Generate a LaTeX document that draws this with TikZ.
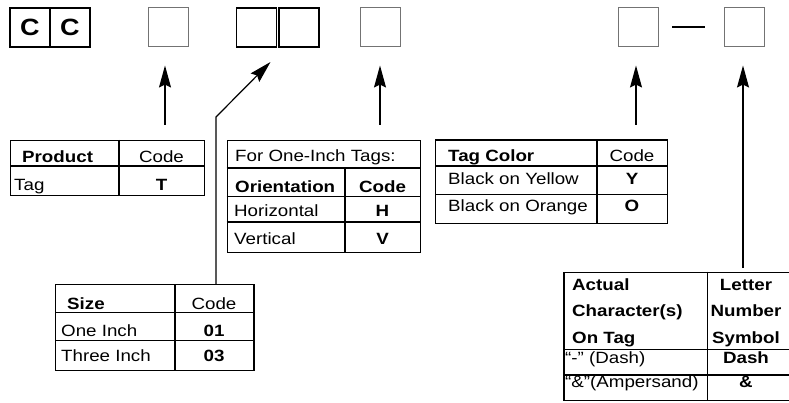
\documentclass[tikz,border=0pt]{standalone}
\usepackage{fontspec}
\setmainfont{Liberation Sans}[FakeStretch=1.15]
\usetikzlibrary{arrows.meta}
\newcommand*{\tsz}{\fontsize{16.3}{19}\selectfont}
\newcommand*{\bsz}{\fontsize{23.5}{26}\selectfont\bfseries}

\begin{document}
\begin{tikzpicture}[x=1pt, y=-1pt, font=\tsz,
    cell/.style  = {draw, line width=1.4pt, minimum width=40pt, minimum height=39pt, inner sep=0pt},
    blank/.style = {draw=black!55, line width=1pt, minimum width=40pt, minimum height=39pt, inner sep=0pt},
    frame/.style = {draw, line width=1.3pt, anchor=north west, inner sep=0pt},
    rule/.style  = {line width=1.3pt},
    txt/.style   = {anchor=base west, inner sep=0pt},
    val/.style   = {anchor=base, inner sep=0pt},
    arr/.style   = {-{Stealth[length=22pt,width=12pt,inset=3pt]}, line width=1.2pt}]
    \useasboundingbox (0,0) rectangle (789,403);

    % code boxes
    \node [cell, font=\bsz] (c1) at ( 30,27.5) {C};
    \node [cell, font=\bsz] (c2) at ( 70,27.5) {C};
    \node [blank]           (b1) at (168,27.5) {};
    \node [cell, line width=1.1pt] (b2) at (256.5,27.5) {};
    \node [cell, line width=1.1pt] (b3) at (299,27.5) {};
    \node [blank]           (b4) at (380.5,27.5) {};
    \node [blank]           (b5) at (638,27.5) {};
    \node [inner sep=0pt]   (dash) at (688.5,27) {\rule{33pt}{1.5pt}};
    \node [blank]           (b6) at (744,27.5) {};

    % product
    \node [frame, minimum width=194pt, minimum height=55pt] (prodt) at (10,140) {};
    \draw [rule] (10,166) -- (204,166) (119,140) -- (119,195);
    \node [txt, font=\tsz\bfseries] (prod)  at (22,163)    {Product};
    \node [val]                     (prodc) at (161.5,163) {Code};
    \node [txt]                     (tag)   at (14,191)    {Tag};
    \node [val, font=\tsz\bfseries] (tagc)  at (161.5,191) {T};

    % orientation
    \node [frame, minimum width=193.5pt, minimum height=111.7pt] (orit) at (226.5,140) {};
    \draw [rule] (226.5,168) -- (420,168) (226.5,196.7) -- (420,196.7) (226.5,222) -- (420,222);
    \draw [rule] (345,168) -- (345,251.7);
    \node [txt]                     (onein) at (235,162)   {For One-Inch Tags:};
    \node [txt, font=\tsz\bfseries] (ori)   at (235,193)   {Orientation};
    \node [val, font=\tsz\bfseries] (oric)  at (382.5,193) {Code};
    \node [txt]                     (hor)   at (234,217)   {Horizontal};
    \node [val, font=\tsz\bfseries] (horc)  at (382.5,217) {H};
    \node [txt]                     (ver)   at (234,244.5) {Vertical};
    \node [val, font=\tsz\bfseries] (verc)  at (382.5,244.5) {V};

    % tag color
    \node [frame, minimum width=232pt, minimum height=83.4pt] (colt) at (435,139.3) {};
    \draw [rule] (435,166) -- (667,166) (435,194.3) -- (667,194.3) (597,139.3) -- (597,222.7);
    \node [txt, font=\tsz\bfseries] (col)   at (448,162)   {Tag Color};
    \node [val]                     (colc)  at (632,162)   {Code};
    \node [txt]                     (yel)   at (448,184.5) {Black on Yellow};
    \node [val, font=\tsz\bfseries] (yelc)  at (632,184.5) {Y};
    \node [txt]                     (ora)   at (448,211.5) {Black on Orange};
    \node [val, font=\tsz\bfseries] (orac)  at (632,211.5) {O};

    % size
    \node [frame, minimum width=198.3pt, minimum height=86pt] (szt) at (55,284) {};
    \draw [rule] (55,312.7) -- (253.3,312.7) (55,340.7) -- (253.3,340.7) (175,284) -- (175,370);
    \node [txt, font=\tsz\bfseries] (sz)    at (67,309.3)  {Size};
    \node [val]                     (szc)   at (214,309.3) {Code};
    \node [txt]                     (one)   at (61,336)    {One Inch};
    \node [val, font=\tsz\bfseries] (onec)  at (214,336)   {01};
    \node [txt]                     (three) at (61,361.7)  {Three Inch};
    \node [val, font=\tsz\bfseries] (threec) at (214,361.7) {03};

    % characters
    \node [frame, minimum width=228pt, minimum height=128.3pt] (actt) at (563.3,271.7) {};
    \draw [rule] (563.3,349.3) -- (791,349.3) (563.3,375) -- (791,375) (707.3,271.7) -- (707.3,400);
    \node [txt, font=\tsz\bfseries] (act1)  at (572,290)   {Actual};
    \node [txt, font=\tsz\bfseries] (act2)  at (572,316.7) {Character(s)};
    \node [txt, font=\tsz\bfseries] (act3)  at (572,343)   {On Tag};
    \node [val, font=\tsz\bfseries] (let1)  at (746,290)   {Letter};
    \node [val, font=\tsz\bfseries] (let2)  at (746,316.7) {Number};
    \node [val, font=\tsz\bfseries] (let3)  at (746,343)   {Symbol};
    \node [txt]                     (dsh)   at (565,363)   {“-” (Dash)};
    \node [val, font=\tsz\bfseries] (dshc)  at (746,363)   {Dash};
    \node [txt]                     (amp)   at (565,387.5) {“\&”(Ampersand)};
    \node [val, font=\tsz\bfseries] (ampc)  at (746,387.5) {\&};

    % arrows
    \coordinate (a1) at (165,125);
    \coordinate (k2) at (216,117);
    \coordinate (t2) at (270.5,62);
    \coordinate (a3) at (380,125);
    \coordinate (a4) at (636,125);
    \coordinate (a5) at (743,268);
    \draw [arr, shorten >=18pt] (a1) -- (a1 |- b1.south);
    \draw [arr] (szt.north -| k2) -- (k2) -- (t2);
    \draw [arr, shorten >=18pt] (a3) -- (a3 |- b4.south);
    \draw [arr, shorten >=18pt] (a4) -- (a4 |- b5.south);
    \draw [arr, shorten >=18pt] (a5) -- (a5 |- b6.south);
\end{tikzpicture}
\end{document}
